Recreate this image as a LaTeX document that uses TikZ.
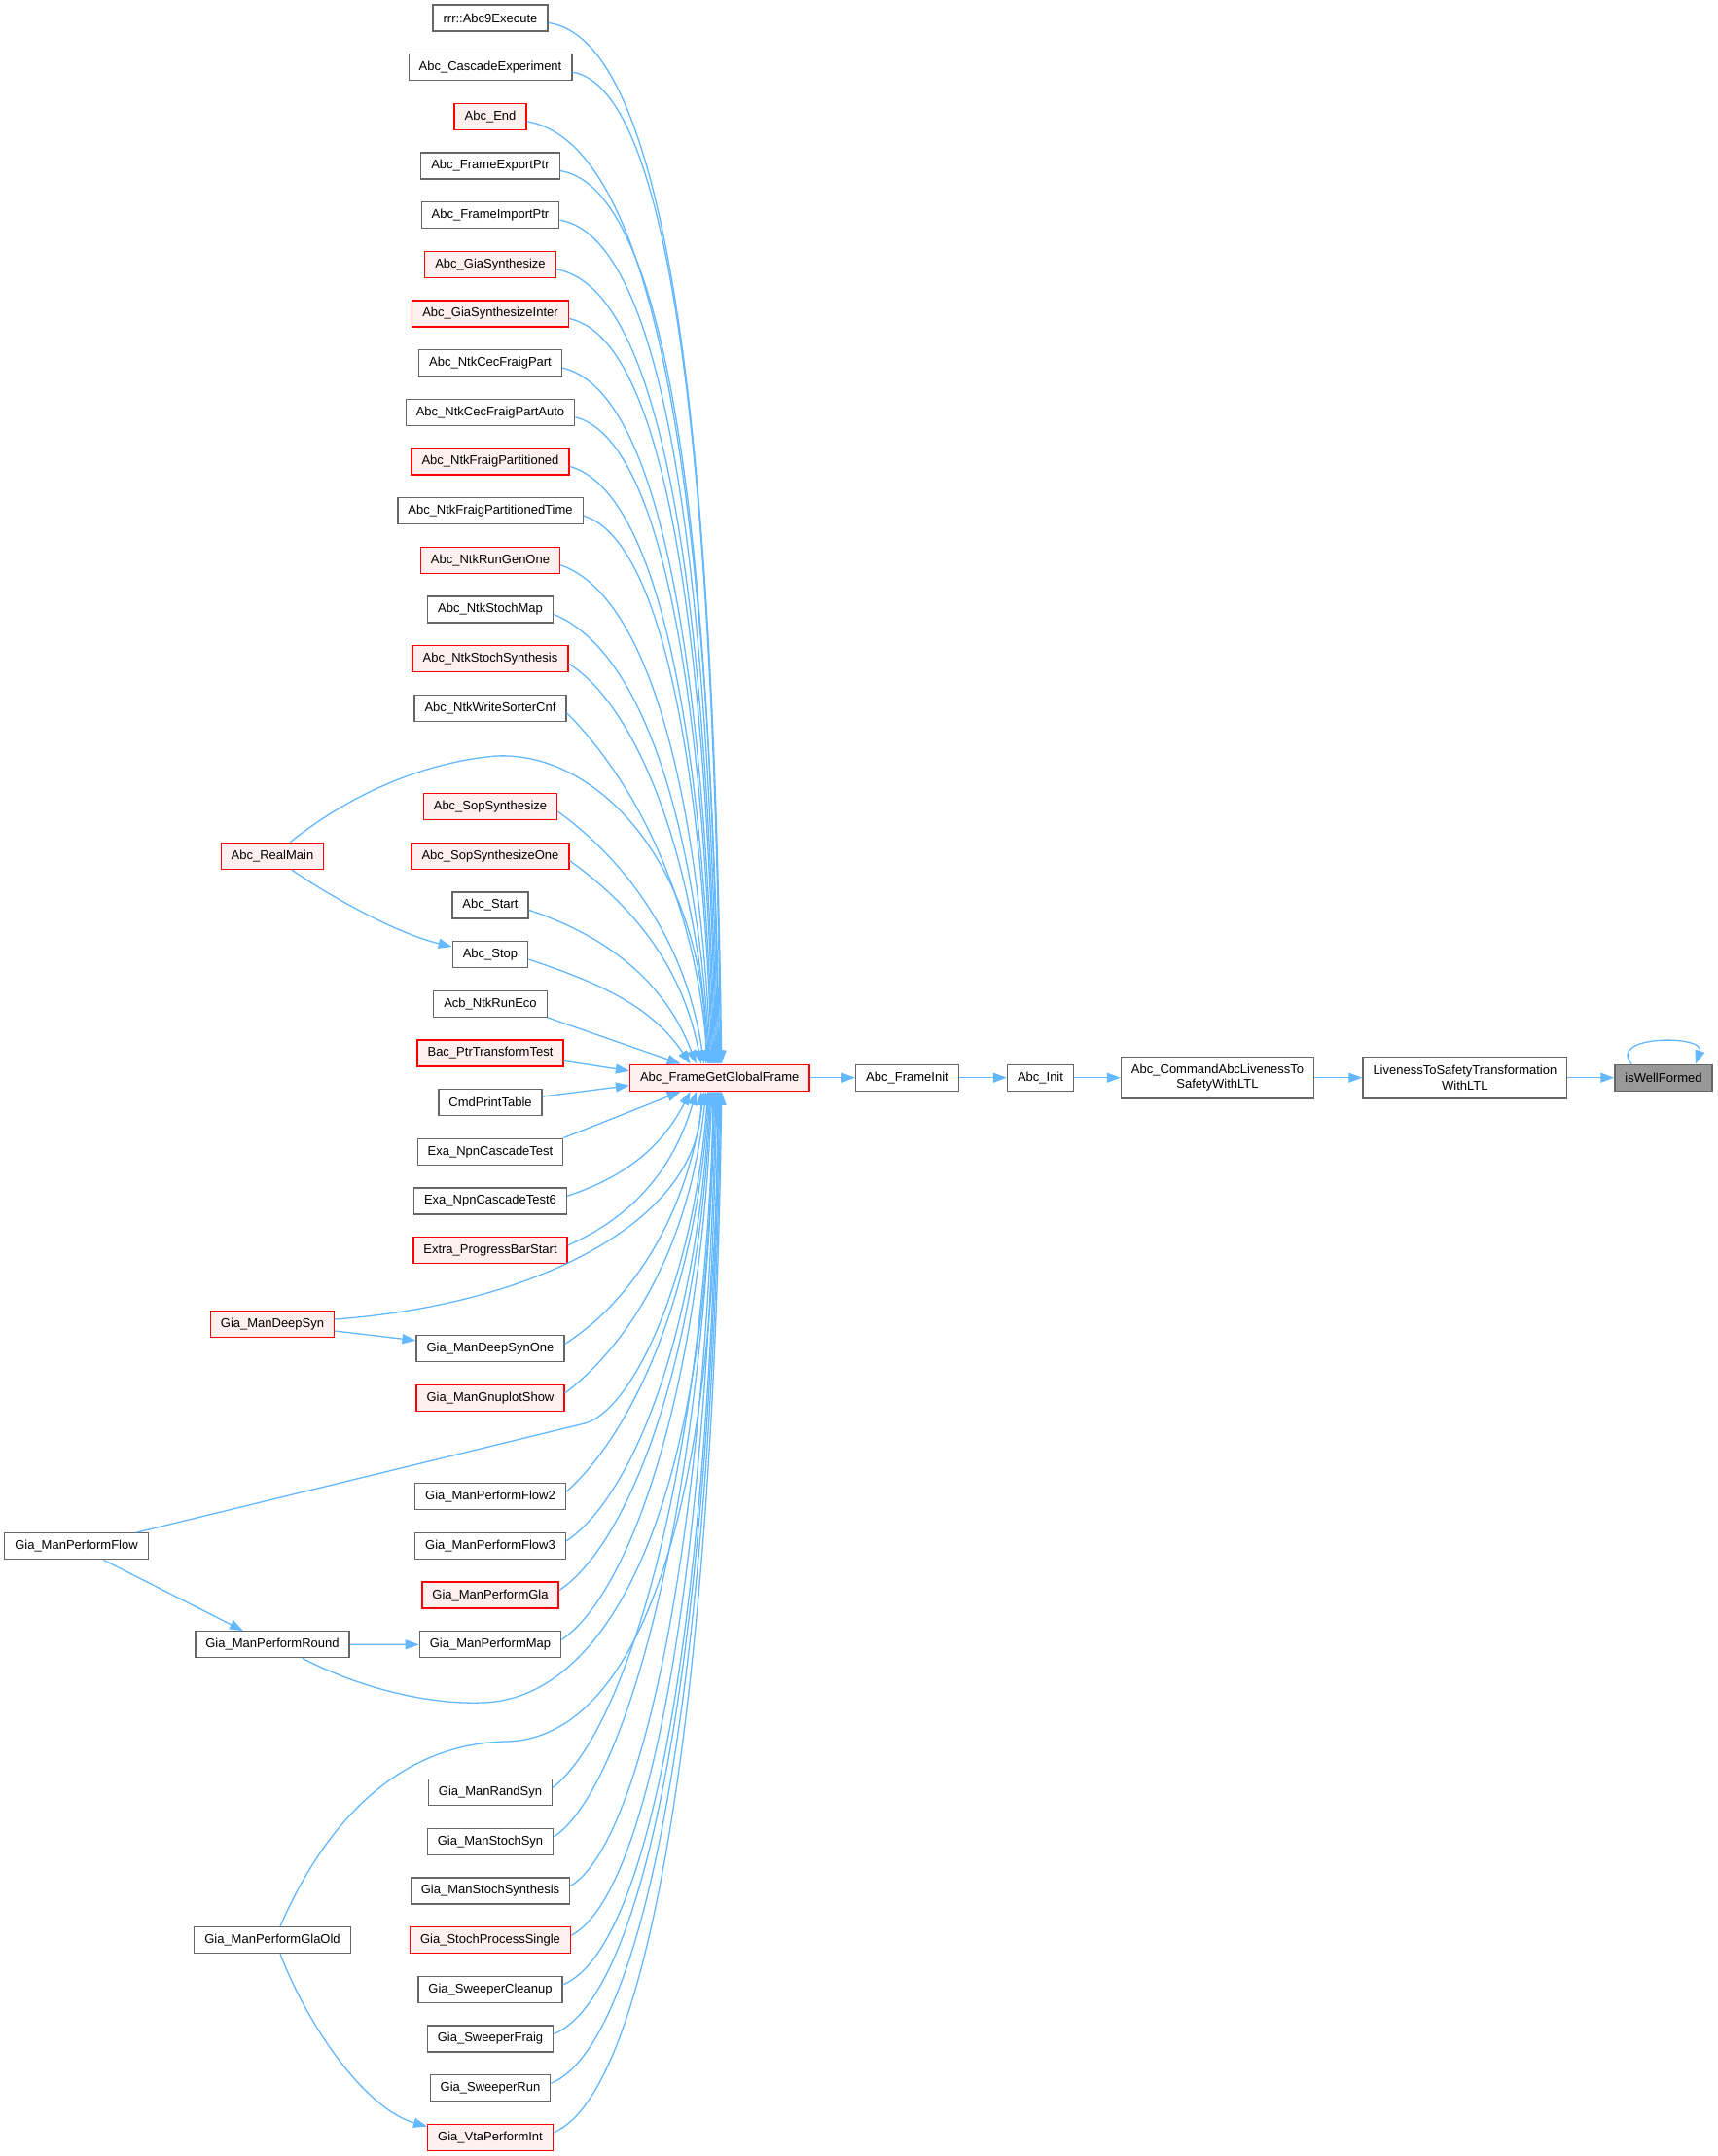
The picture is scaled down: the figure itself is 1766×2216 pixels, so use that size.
\documentclass[tikz,border=0pt]{standalone}
\usepackage{fontspec}
\setmainfont{Liberation Sans}
\usetikzlibrary{arrows.meta,calc}
\definecolor{edgeblue}{HTML}{63B8FF}
\definecolor{nodegray}{HTML}{666666}
\definecolor{redfill}{HTML}{FFF0F0}
\definecolor{curfill}{HTML}{999999}
\begin{document}
\begin{tikzpicture}[x=1pt,y=-1pt,
 box/.style={draw=nodegray,fill=white,line width=1.3pt,text=black,font=\fontsize{13}{15.5}\selectfont,inner xsep=10.5pt,inner ysep=0pt,minimum height=27pt,align=center},
 redbox/.style={box,draw=red,fill=redfill},
 curbox/.style={box,fill=curfill},
 twoline/.style={minimum height=42.5pt},
 edge/.style={draw=edgeblue,line width=1.3pt,-{Triangle[length=14pt,width=10pt]}}]
\fill[white] (0,0) rectangle (1766,2216);
\useasboundingbox (0,0) rectangle (1766,2216);

% column of callers
\foreach \r/\lbl in {0/{rrr::Abc9Execute},1/{Abc\_CascadeExperiment},3/{Abc\_FrameExportPtr},4/{Abc\_FrameImportPtr},7/{Abc\_NtkCecFraigPart},8/{Abc\_NtkCecFraigPartAuto},10/{Abc\_NtkFraigPartitionedTime},12/{Abc\_NtkStochMap},14/{Abc\_NtkWriteSorterCnf},18/{Abc\_Start},19/{Abc\_Stop},20/{Acb\_NtkRunEco},22/{CmdPrintTable},23/{Exa\_NpnCascadeTest},24/{Exa\_NpnCascadeTest6},27/{Gia\_ManDeepSynOne},30/{Gia\_ManPerformFlow2},31/{Gia\_ManPerformFlow3},33/{Gia\_ManPerformMap},36/{Gia\_ManRandSyn},37/{Gia\_ManStochSyn},38/{Gia\_ManStochSynthesis},40/{Gia\_SweeperCleanup},41/{Gia\_SweeperFraig},42/{Gia\_SweeperRun}}
  \node[box] (c\r) at (504,{18.5+50.66*\r}) {\lbl};
\foreach \r/\lbl in {2/{Abc\_End},5/{Abc\_GiaSynthesize},6/{Abc\_GiaSynthesizeInter},9/{Abc\_NtkFraigPartitioned},11/{Abc\_NtkRunGenOne},13/{Abc\_NtkStochSynthesis},16/{Abc\_SopSynthesize},17/{Abc\_SopSynthesizeOne},21/{Bac\_PtrTransformTest},25/{Extra\_ProgressBarStart},28/{Gia\_ManGnuplotShow},32/{Gia\_ManPerformGla},39/{Gia\_StochProcessSingle},43/{Gia\_VtaPerformInt}}
  \node[redbox] (c\r) at (504,{18.5+50.66*\r}) {\lbl};

% left nodes
\node[redbox] (realmain) at (280,880) {Abc\_RealMain};
\node[redbox] (deepsyn) at (280,1361) {Gia\_ManDeepSyn};
\node[box] (flow) at (78.5,1589.2) {Gia\_ManPerformFlow};
\node[box] (round) at (280,1690.3) {Gia\_ManPerformRound};
\node[box] (glaold) at (280,1994.2) {Gia\_ManPerformGlaOld};

% main row
\node[redbox] (frame) at (739.7,1107.7) {Abc\_FrameGetGlobalFrame};
\node[box] (finit) at (932.5,1107.7) {Abc\_FrameInit};
\node[box] (ainit) at (1069.5,1107.7) {Abc\_Init};
\node[box,twoline] (cmdltl) at (1251.5,1107.7) {Abc\_CommandAbcLivenessTo\\SafetyWithLTL};
\node[box,twoline] (l2s) at (1505.9,1107.7) {LivenessToSafetyTransformation\\WithLTL};
\node[curbox] (iswf) at (1710,1107.7) {isWellFormed};

% edges from rows above: row / end offset / horizontal factor / vertical factor
\foreach \r/\dx/\k/\m in {0/2/.74/.1,1/1/.72/.12,2/0/.72/.12,3/-1/.72/.12,4/-2/.7/.12,5/-3/.7/.12,6/-4/.68/.14,7/-5/.66/.15,8/-6/.64/.16,9/-7/.62/.17,10/-8/.6/.18,11/-9/.58/.2,12/-10/.55/.22,13/-11/.45/.28,14/-12/.35/.35,16/-16/.35/.25,17/-19/.35/.25,18/-24/.45/.15,19/-30/.45/.15}
  \draw[edge] let \p1=([yshift=-5pt]c\r.east), \p2=([xshift=\dx pt]frame.north), \n1={abs(\y2-\y1)}, \n2={\x2-\x1} in
    (\p1) .. controls ({\x1+\k*\n2},{\y1-\m*\n2}) and ({\x2-0.5*\n2*(100/(\n1+100))},{\y2+0.55*\n1}) .. (\p2);
% edges from rows below
\foreach \r/\dx/\k/\m in {24/-30/.45/.15,25/-24/.45/.2,27/-16/.4/.25,28/-14/.4/.3,30/-11/.4/.35,31/-10/.45/.3,32/-9/.45/.3,33/-8/.45/.3,36/-6/.45/.35,37/-5/.45/.3,38/-4/.5/.3,39/-3/.55/.28,40/-1/.6/.25,41/0/.6/.25,42/1/.6/.25,43/2/.6/.25}
  \draw[edge] let \p1=([yshift=5pt]c\r.east), \p2=([xshift=\dx pt]frame.south), \n1={abs(\y2-\y1)}, \n2={\x2-\x1} in
    (\p1) .. controls ({\x1+\k*\n2},{\y1+\m*\n2}) and ({\x2-0.5*\n2*(100/(\n1+100))},{\y2-0.55*\n1}) .. (\p2);
% near rows
\draw[edge] (c20.south east) -- ([xshift=-40pt]frame.north);
\draw[edge] ([yshift=-8pt]c21.east) -- ([yshift=7pt]frame.west);
\draw[edge] ([yshift=6pt]c22.east) -- ([yshift=-8pt]frame.west);
\draw[edge] (c23.north east) -- ([xshift=-40pt]frame.south);

% left nodes edges
\draw[edge] ([xshift=18pt]realmain.north) .. controls (345,828) and (420,785) .. (510,777) .. controls (615,772) and (725,890) .. ([xshift=-14pt]frame.north);
\draw[edge] ([xshift=20pt]realmain.south) .. controls (345,925) and (410,960) .. ([yshift=8pt]c19.west);
\draw[edge] ([yshift=5pt]deepsyn.east) .. controls (560,1340) and (720,1250) .. ([xshift=-19pt]frame.south);
\draw[edge] ([yshift=-7pt]deepsyn.east) -- ([yshift=8.5pt]c27.west);
\draw[edge] ([xshift=62pt]flow.north) -- (601,1463) .. controls (645,1452) and (712,1330) .. ([xshift=-12pt]frame.south);
\draw[edge] ([xshift=28pt]flow.south) -- ([xshift=-30pt]round.north);
\draw[edge] (round.east) -- (c33.west);
\draw[edge] ([xshift=31pt]round.south) .. controls (370,1735) and (440,1752) .. (495,1750) .. controls (620,1748) and (731,1560) .. ([xshift=-7pt]frame.south);
\draw[edge] ([xshift=8pt]glaold.north) .. controls (340,1860) and (420,1792) .. (520,1790) .. controls (640,1788) and (737,1600) .. ([xshift=-2pt]frame.south);
\draw[edge] ([xshift=8pt]glaold.south) .. controls (320,2090) and (378,2168) .. ([yshift=-3pt]c43.north west);

% main chain
\draw[edge] (frame.east) -- (finit.west);
\draw[edge] (finit.east) -- (ainit.west);
\draw[edge] (ainit.east) -- (cmdltl.west);
\draw[edge] (cmdltl.east) -- (l2s.west);
\draw[edge] (l2s.east) -- (iswf.west);
\draw[edge] ([xshift=-33pt]iswf.north) .. controls +(-25,-30) and +(10,-30) .. ([xshift=33pt]iswf.north);
\end{tikzpicture}
\end{document}
